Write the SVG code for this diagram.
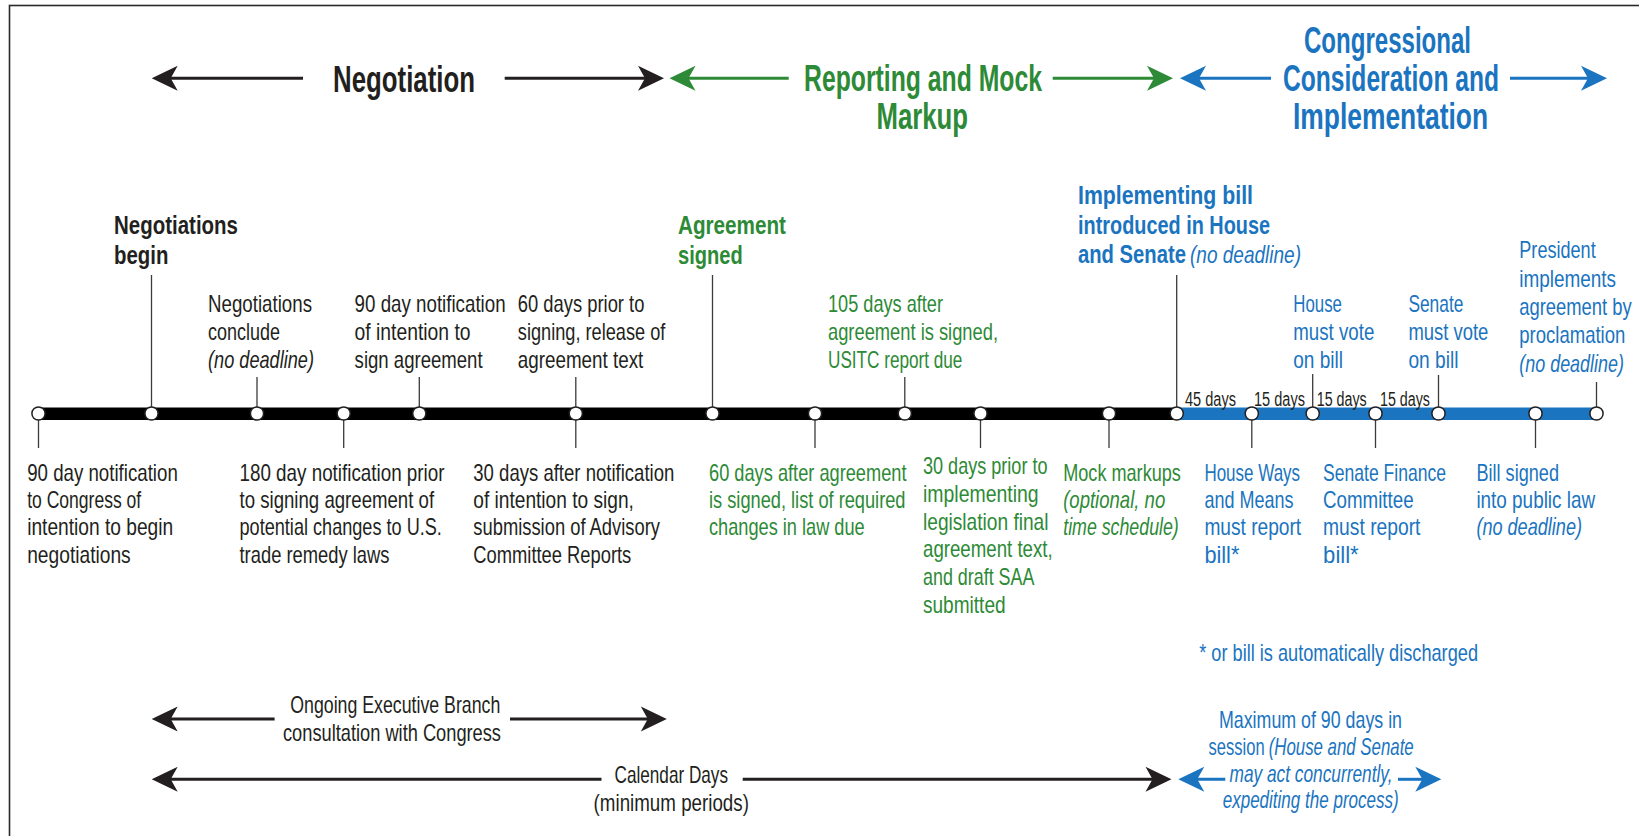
<svg xmlns="http://www.w3.org/2000/svg" xmlns:xlink="http://www.w3.org/1999/xlink" width="1639" height="836" viewBox="0 0 1639 836">
<style>
text{font-family:"Liberation Sans Narrow","Liberation Sans",Arial,sans-serif;}
.h{font-size:36px;font-weight:bold;}
.b{font-size:26px;font-weight:bold;}
.r{font-size:24px;}
.it{font-style:italic;font-weight:normal;}
.d{font-size:20px;}
.k{fill:#231f20;}
.g{fill:#2d8a36;}
.u{fill:#1a74c0;}
.lk{stroke:#231f20;stroke-width:3;}
.lg{stroke:#2d8a36;stroke-width:3;}
.lu{stroke:#1a74c0;stroke-width:3;}
.tick{stroke:#3a3a3a;stroke-width:1.3;}
.dot{fill:#fff;stroke:#231f20;stroke-width:1.5;}
</style>
<defs>
<path id="ah" d="M0,0 L26,-12.5 L19,0 L26,12.5 Z"/>
</defs>
<rect x="9.5" y="5.5" width="1650" height="860" fill="#fff" stroke="#2a2a2a" stroke-width="1.6"/>

<g id="connectors">
<line class="lk" x1="165" y1="78.3" x2="303" y2="78.3"/>
<use xlink:href="#ah" href="#ah" transform="translate(151.7,78.3)" fill="#231f20"/>
<line class="lk" x1="504.7" y1="78.3" x2="650" y2="78.3"/>
<use xlink:href="#ah" href="#ah" transform="translate(664,78.3) scale(-1,1)" fill="#231f20"/>
<line class="lg" x1="683" y1="78.3" x2="788.7" y2="78.3"/>
<use xlink:href="#ah" href="#ah" transform="translate(669.5,78.3)" fill="#2d8a36"/>
<line class="lg" x1="1052.7" y1="78.3" x2="1159" y2="78.3"/>
<use xlink:href="#ah" href="#ah" transform="translate(1173,78.3) scale(-1,1)" fill="#2d8a36"/>
<line class="lu" x1="1194" y1="78.3" x2="1271" y2="78.3"/>
<use xlink:href="#ah" href="#ah" transform="translate(1180,78.3)" fill="#1a74c0"/>
<line class="lu" x1="1510" y1="78.3" x2="1593" y2="78.3"/>
<use xlink:href="#ah" href="#ah" transform="translate(1607,78.3) scale(-1,1)" fill="#1a74c0"/>
<line class="lk" x1="165" y1="719" x2="274.6" y2="719"/>
<use xlink:href="#ah" href="#ah" transform="translate(151.7,719)" fill="#231f20"/>
<line class="lk" x1="510" y1="719" x2="653" y2="719"/>
<use xlink:href="#ah" href="#ah" transform="translate(666.8,719) scale(-1,1)" fill="#231f20"/>
<line class="lk" x1="165" y1="779.3" x2="601.5" y2="779.3"/>
<use xlink:href="#ah" href="#ah" transform="translate(151.7,779.3)" fill="#231f20"/>
<line class="lk" x1="742.7" y1="779.3" x2="1158" y2="779.3"/>
<use xlink:href="#ah" href="#ah" transform="translate(1171.5,779.3) scale(-1,1)" fill="#231f20"/>
<line class="lu" x1="1192" y1="779.3" x2="1225.3" y2="779.3"/>
<use xlink:href="#ah" href="#ah" transform="translate(1178.3,779.3)" fill="#1a74c0"/>
<line class="lu" x1="1398" y1="779.3" x2="1428" y2="779.3"/>
<use xlink:href="#ah" href="#ah" transform="translate(1441.3,779.3) scale(-1,1)" fill="#1a74c0"/>
<line class="tick" x1="151.5" y1="275" x2="151.5" y2="407"/>
<line class="tick" x1="257" y1="377" x2="257" y2="407"/>
<line class="tick" x1="419.3" y1="377" x2="419.3" y2="407"/>
<line class="tick" x1="575.8" y1="377" x2="575.8" y2="407"/>
<line class="tick" x1="712.5" y1="275" x2="712.5" y2="407"/>
<line class="tick" x1="904.8" y1="377" x2="904.8" y2="407"/>
<line class="tick" x1="1176.7" y1="275" x2="1176.7" y2="407"/>
<line class="tick" x1="1312.7" y1="374" x2="1312.7" y2="407"/>
<line class="tick" x1="1438.5" y1="375" x2="1438.5" y2="407"/>
<line class="tick" x1="1596.5" y1="382" x2="1596.5" y2="407"/>
<line class="tick" x1="38.5" y1="420" x2="38.5" y2="448"/>
<line class="tick" x1="343.7" y1="420" x2="343.7" y2="448"/>
<line class="tick" x1="575.8" y1="420" x2="575.8" y2="448"/>
<line class="tick" x1="815" y1="420" x2="815" y2="448"/>
<line class="tick" x1="980.5" y1="420" x2="980.5" y2="448"/>
<line class="tick" x1="1109" y1="420" x2="1109" y2="448"/>
<line class="tick" x1="1251.8" y1="420" x2="1251.8" y2="448"/>
<line class="tick" x1="1375.5" y1="420" x2="1375.5" y2="448"/>
<line class="tick" x1="1535.5" y1="420" x2="1535.5" y2="448"/>
</g>

<g id="timeline">
<rect x="38.5" y="407.5" width="1138.2" height="12.5" fill="#000"/>
<rect x="1176.7" y="407.5" width="419.8" height="12.5" fill="#1a74c0"/>
<circle class="dot" cx="38.5" cy="413.5" r="6.6"/>
<circle class="dot" cx="151.5" cy="413.5" r="6.6"/>
<circle class="dot" cx="257" cy="413.5" r="6.6"/>
<circle class="dot" cx="343.7" cy="413.5" r="6.6"/>
<circle class="dot" cx="419.3" cy="413.5" r="6.6"/>
<circle class="dot" cx="575.8" cy="413.5" r="6.6"/>
<circle class="dot" cx="712.5" cy="413.5" r="6.6"/>
<circle class="dot" cx="815" cy="413.5" r="6.6"/>
<circle class="dot" cx="904.8" cy="413.5" r="6.6"/>
<circle class="dot" cx="980.5" cy="413.5" r="6.6"/>
<circle class="dot" cx="1109" cy="413.5" r="6.6"/>
<circle class="dot" cx="1176.7" cy="413.5" r="6.6"/>
<circle class="dot" cx="1251.8" cy="413.5" r="6.6"/>
<circle class="dot" cx="1312.7" cy="413.5" r="6.6"/>
<circle class="dot" cx="1375.5" cy="413.5" r="6.6"/>
<circle class="dot" cx="1438.5" cy="413.5" r="6.6"/>
<circle class="dot" cx="1535.5" cy="413.5" r="6.6"/>
<circle class="dot" cx="1596.5" cy="413.5" r="6.6"/>
<text class="d k" x="1185" y="406" textLength="51" lengthAdjust="spacingAndGlyphs">45 days</text>
<text class="d k" x="1254" y="406" textLength="51" lengthAdjust="spacingAndGlyphs">15 days</text>
<text class="d k" x="1316.7" y="406" textLength="50" lengthAdjust="spacingAndGlyphs">15 days</text>
<text class="d k" x="1380" y="406" textLength="50" lengthAdjust="spacingAndGlyphs">15 days</text>
</g>

<g id="header-negotiation">
<text class="h k" x="333" y="91.5" textLength="142" lengthAdjust="spacingAndGlyphs">Negotiation</text>
</g>
<g id="header-reporting">
<text class="h g" x="804" y="90.7" textLength="238" lengthAdjust="spacingAndGlyphs">Reporting and Mock</text>
<text class="h g" x="876.5" y="128.5" textLength="91.5" lengthAdjust="spacingAndGlyphs">Markup</text>
</g>
<g id="header-congressional">
<text class="h u" x="1304" y="52.5" textLength="167" lengthAdjust="spacingAndGlyphs">Congressional</text>
<text class="h u" x="1283" y="90.7" textLength="216" lengthAdjust="spacingAndGlyphs">Consideration and</text>
<text class="h u" x="1293" y="129.3" textLength="195" lengthAdjust="spacingAndGlyphs">Implementation</text>
</g>

<g id="n-negotiations-begin">
<text class="b k" x="114" y="234" textLength="124" lengthAdjust="spacingAndGlyphs">Negotiations</text>
<text class="b k" x="114" y="264" textLength="54.4" lengthAdjust="spacingAndGlyphs">begin</text>
</g>
<g id="n-agreement-signed">
<text class="b g" x="678" y="234" textLength="108" lengthAdjust="spacingAndGlyphs">Agreement</text>
<text class="b g" x="678" y="264" textLength="64.7" lengthAdjust="spacingAndGlyphs">signed</text>
</g>
<g id="n-implementing-bill">
<text class="b u" x="1078" y="204" textLength="175" lengthAdjust="spacingAndGlyphs">Implementing bill</text>
<text class="b u" x="1078" y="234" textLength="192" lengthAdjust="spacingAndGlyphs">introduced in House</text>
<text class="b u" x="1078" y="263.3" textLength="108" lengthAdjust="spacingAndGlyphs">and Senate</text>
<text class="r u it" x="1190" y="263.3" textLength="111" lengthAdjust="spacingAndGlyphs">(no deadline)</text>
</g>

<g id="n-negotiations-conclude">
<text class="r k" x="208" y="311.7" textLength="104" lengthAdjust="spacingAndGlyphs">Negotiations</text>
<text class="r k" x="208" y="340" textLength="72" lengthAdjust="spacingAndGlyphs">conclude</text>
<text class="r k it" x="208" y="368.2" textLength="106" lengthAdjust="spacingAndGlyphs">(no deadline)</text>
</g>
<g id="n-90day-sign">
<text class="r k" x="354.6" y="311.7" textLength="151" lengthAdjust="spacingAndGlyphs">90 day notification</text>
<text class="r k" x="354.6" y="340" textLength="116" lengthAdjust="spacingAndGlyphs">of intention to</text>
<text class="r k" x="354.6" y="368.2" textLength="128" lengthAdjust="spacingAndGlyphs">sign agreement</text>
</g>
<g id="n-60days-prior">
<text class="r k" x="517.8" y="311.7" textLength="126.6" lengthAdjust="spacingAndGlyphs">60 days prior to</text>
<text class="r k" x="517.8" y="340" textLength="147.5" lengthAdjust="spacingAndGlyphs">signing, release of</text>
<text class="r k" x="517.8" y="368.2" textLength="125.5" lengthAdjust="spacingAndGlyphs">agreement text</text>
</g>
<g id="n-105days">
<text class="r g" x="828" y="311.7" textLength="115" lengthAdjust="spacingAndGlyphs">105 days after</text>
<text class="r g" x="828" y="340" textLength="170" lengthAdjust="spacingAndGlyphs">agreement is signed,</text>
<text class="r g" x="828" y="368.2" textLength="134.4" lengthAdjust="spacingAndGlyphs">USITC report due</text>
</g>
<g id="n-house-vote">
<text class="r u" x="1293.3" y="311.7" textLength="48.6" lengthAdjust="spacingAndGlyphs">House</text>
<text class="r u" x="1293.3" y="340" textLength="81" lengthAdjust="spacingAndGlyphs">must vote</text>
<text class="r u" x="1293.3" y="368.2" textLength="49.7" lengthAdjust="spacingAndGlyphs">on bill</text>
</g>
<g id="n-senate-vote">
<text class="r u" x="1408.4" y="311.7" textLength="55" lengthAdjust="spacingAndGlyphs">Senate</text>
<text class="r u" x="1408.4" y="340" textLength="80" lengthAdjust="spacingAndGlyphs">must vote</text>
<text class="r u" x="1408.4" y="368.2" textLength="50" lengthAdjust="spacingAndGlyphs">on bill</text>
</g>
<g id="n-president">
<text class="r u" x="1519.3" y="258.3" textLength="76.4" lengthAdjust="spacingAndGlyphs">President</text>
<text class="r u" x="1519.3" y="286.7" textLength="96.8" lengthAdjust="spacingAndGlyphs">implements</text>
<text class="r u" x="1519.3" y="315" textLength="112.4" lengthAdjust="spacingAndGlyphs">agreement by</text>
<text class="r u" x="1519.3" y="343.3" textLength="106" lengthAdjust="spacingAndGlyphs">proclamation</text>
<text class="r u it" x="1519.3" y="371.7" textLength="104.6" lengthAdjust="spacingAndGlyphs">(no deadline)</text>
</g>

<g id="n-90day-begin">
<text class="r k" x="27.2" y="480.7" textLength="150.6" lengthAdjust="spacingAndGlyphs">90 day notification</text>
<text class="r k" x="27.2" y="508" textLength="114" lengthAdjust="spacingAndGlyphs">to Congress of</text>
<text class="r k" x="27.2" y="535.3" textLength="146" lengthAdjust="spacingAndGlyphs">intention to begin</text>
<text class="r k" x="27.2" y="562.7" textLength="103.5" lengthAdjust="spacingAndGlyphs">negotiations</text>
</g>
<g id="n-180day">
<text class="r k" x="239.5" y="480.7" textLength="205" lengthAdjust="spacingAndGlyphs">180 day notification prior</text>
<text class="r k" x="239.5" y="508" textLength="194.6" lengthAdjust="spacingAndGlyphs">to signing agreement of</text>
<text class="r k" x="239.5" y="535.3" textLength="202.4" lengthAdjust="spacingAndGlyphs">potential changes to U.S.</text>
<text class="r k" x="239.5" y="562.7" textLength="150" lengthAdjust="spacingAndGlyphs">trade remedy laws</text>
</g>
<g id="n-30days-after">
<text class="r k" x="473.3" y="480.7" textLength="201" lengthAdjust="spacingAndGlyphs">30 days after notification</text>
<text class="r k" x="473.3" y="508" textLength="160.6" lengthAdjust="spacingAndGlyphs">of intention to sign,</text>
<text class="r k" x="473.3" y="535.3" textLength="186.7" lengthAdjust="spacingAndGlyphs">submission of Advisory</text>
<text class="r k" x="473.3" y="562.7" textLength="158" lengthAdjust="spacingAndGlyphs">Committee Reports</text>
</g>
<g id="n-60days-after">
<text class="r g" x="709" y="480.7" textLength="197.5" lengthAdjust="spacingAndGlyphs">60 days after agreement</text>
<text class="r g" x="709" y="508" textLength="196.5" lengthAdjust="spacingAndGlyphs">is signed, list of required</text>
<text class="r g" x="709" y="535.3" textLength="155.7" lengthAdjust="spacingAndGlyphs">changes in law due</text>
</g>
<g id="n-30days-prior">
<text class="r g" x="923" y="474" textLength="124.5" lengthAdjust="spacingAndGlyphs">30 days prior to</text>
<text class="r g" x="923" y="501.8" textLength="115.6" lengthAdjust="spacingAndGlyphs">implementing</text>
<text class="r g" x="923" y="529.6" textLength="125.5" lengthAdjust="spacingAndGlyphs">legislation final</text>
<text class="r g" x="923" y="557.4" textLength="129.7" lengthAdjust="spacingAndGlyphs">agreement text,</text>
<text class="r g" x="923" y="585.2" textLength="111.4" lengthAdjust="spacingAndGlyphs">and draft SAA</text>
<text class="r g" x="923" y="613" textLength="82.6" lengthAdjust="spacingAndGlyphs">submitted</text>
</g>
<g id="n-mock-markups">
<text class="r g" x="1063.2" y="480.7" textLength="117.7" lengthAdjust="spacingAndGlyphs">Mock markups</text>
<text class="r g it" x="1063.2" y="508" textLength="102" lengthAdjust="spacingAndGlyphs">(optional, no</text>
<text class="r g it" x="1063.2" y="535.3" textLength="115.6" lengthAdjust="spacingAndGlyphs">time schedule)</text>
</g>
<g id="n-house-ways">
<text class="r u" x="1204.4" y="480.7" textLength="95.7" lengthAdjust="spacingAndGlyphs">House Ways</text>
<text class="r u" x="1204.4" y="508" textLength="89" lengthAdjust="spacingAndGlyphs">and Means</text>
<text class="r u" x="1204.4" y="535.3" textLength="96.8" lengthAdjust="spacingAndGlyphs">must report</text>
<text class="r u" x="1204.4" y="562.7" textLength="35" lengthAdjust="spacingAndGlyphs">bill*</text>
</g>
<g id="n-senate-finance">
<text class="r u" x="1323.1" y="480.7" textLength="123" lengthAdjust="spacingAndGlyphs">Senate Finance</text>
<text class="r u" x="1323.1" y="508" textLength="90.5" lengthAdjust="spacingAndGlyphs">Committee</text>
<text class="r u" x="1323.1" y="535.3" textLength="97.3" lengthAdjust="spacingAndGlyphs">must report</text>
<text class="r u" x="1323.1" y="562.7" textLength="35.6" lengthAdjust="spacingAndGlyphs">bill*</text>
</g>
<g id="n-bill-signed">
<text class="r u" x="1476.4" y="480.7" textLength="82.6" lengthAdjust="spacingAndGlyphs">Bill signed</text>
<text class="r u" x="1476.4" y="508" textLength="118.7" lengthAdjust="spacingAndGlyphs">into public law</text>
<text class="r u it" x="1476.4" y="535.3" textLength="105.6" lengthAdjust="spacingAndGlyphs">(no deadline)</text>
</g>
<g id="note-discharged">
<text class="r u" x="1199.2" y="660.7" textLength="278.8" lengthAdjust="spacingAndGlyphs">* or bill is automatically discharged</text>
</g>

<g id="label-ongoing">
<text class="r k" x="290.3" y="712.7" textLength="210" lengthAdjust="spacingAndGlyphs">Ongoing Executive Branch</text>
<text class="r k" x="283" y="741" textLength="218" lengthAdjust="spacingAndGlyphs">consultation with Congress</text>
</g>
<g id="label-calendar">
<text class="r k" x="614.5" y="783.3" textLength="113.5" lengthAdjust="spacingAndGlyphs">Calendar Days</text>
<text class="r k" x="593.6" y="810.7" textLength="155.3" lengthAdjust="spacingAndGlyphs">(minimum periods)</text>
</g>
<g id="label-maximum">
<text class="r u" x="1219" y="728.3" textLength="183" lengthAdjust="spacingAndGlyphs">Maximum of 90 days in</text>
<text class="r u" x="1208.6" y="755" textLength="56" lengthAdjust="spacingAndGlyphs">session</text>
<text class="r u it" x="1268.7" y="755" textLength="145" lengthAdjust="spacingAndGlyphs">(House and Senate</text>
<text class="r u it" x="1229.5" y="781.7" textLength="163" lengthAdjust="spacingAndGlyphs">may act concurrently,</text>
<text class="r u it" x="1222.7" y="808" textLength="176" lengthAdjust="spacingAndGlyphs">expediting the process)</text>
</g>
</svg>
